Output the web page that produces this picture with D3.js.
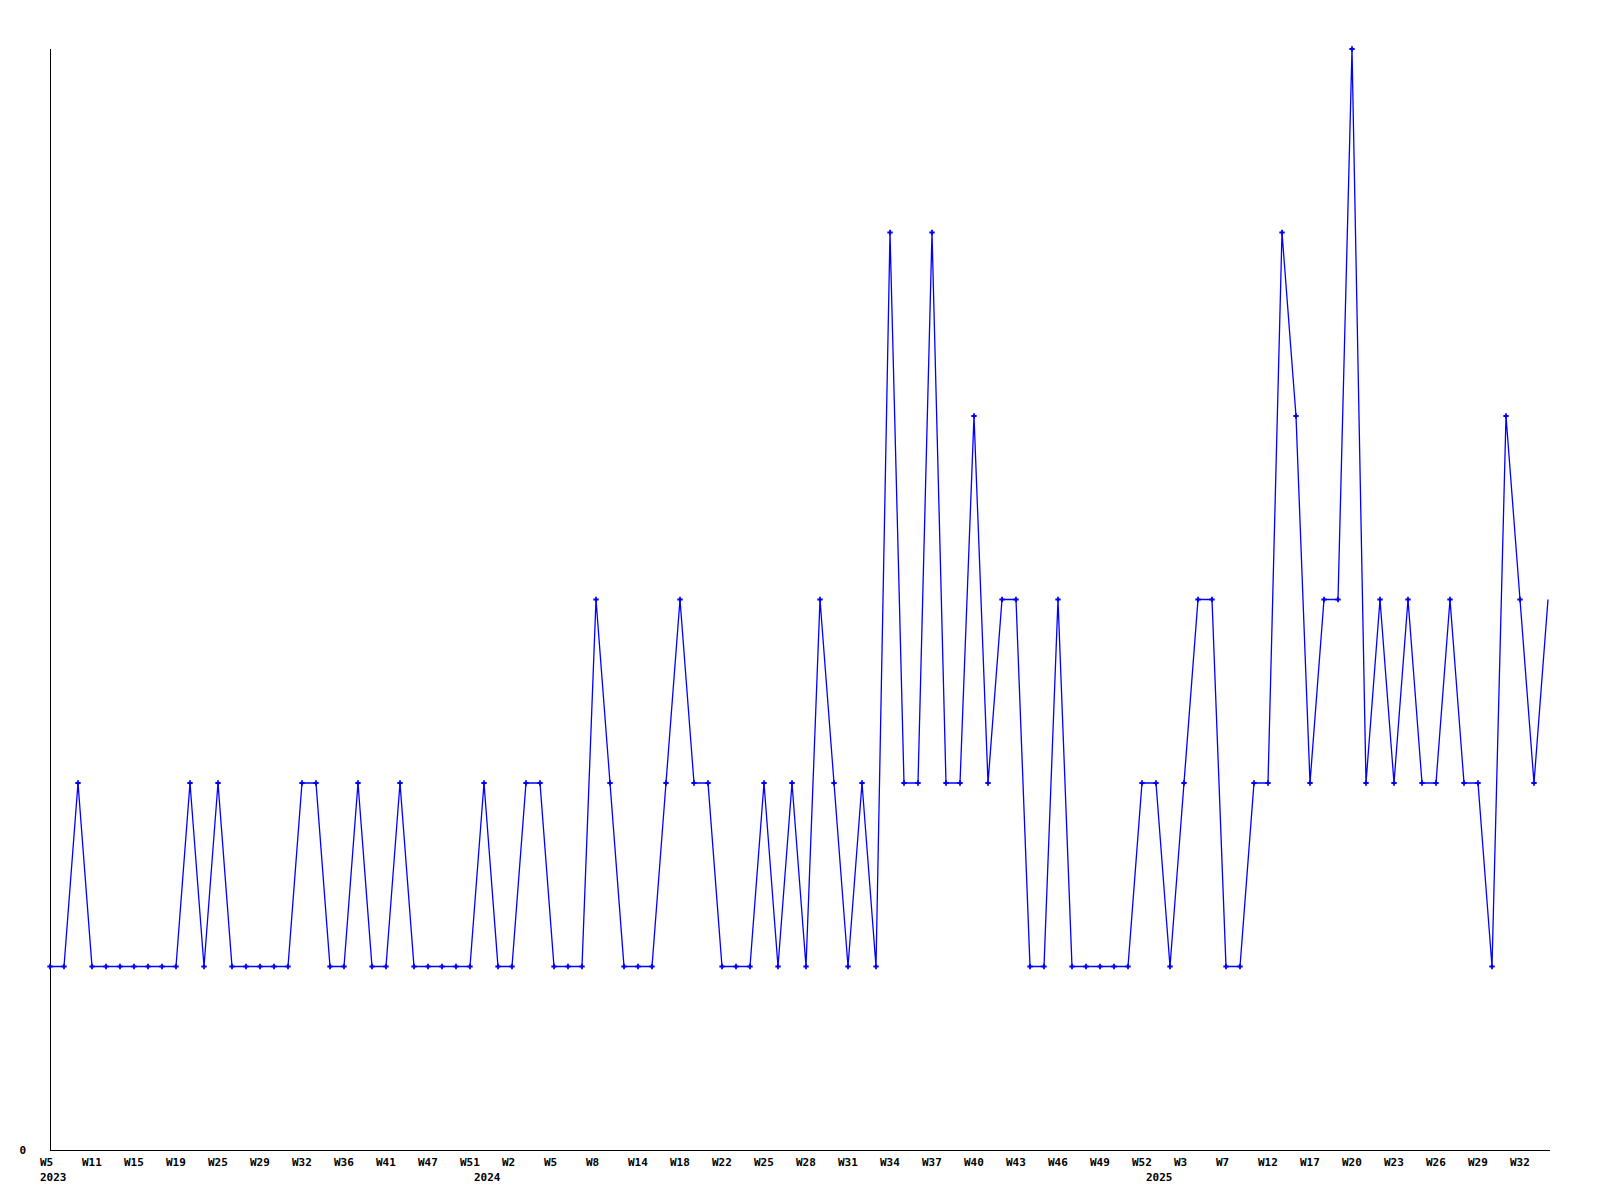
<!DOCTYPE html>
<html>
<head>
<meta charset="utf-8">
<script src="https://cdn.jsdelivr.net/npm/d3@7"></script>
<style>
  html, body { margin: 0; padding: 0; background: #ffffff; }
  svg { display: block; }
  text { font-family: "DejaVu Sans Mono", "Liberation Mono", monospace; font-weight: bold; font-size: 11px; fill: #000; }
</style>
</head>
<body>
<script>
// Weekly values, one per plotted week (108 points)
const values = [
  1,1,2,1,1,1,1,1,1,1,
  2,1,2,1,1,1,1,1,2,2,
  1,1,2,1,1,2,1,1,1,1,
  1,2,1,1,2,2,1,1,1,3,
  2,1,1,1,2,3,2,2,1,1,
  1,2,1,2,1,3,2,1,2,1,
  5,2,2,5,2,2,4,2,3,3,
  1,1,3,1,1,1,1,1,2,2,
  1,2,3,3,1,1,2,2,5,4,
  2,3,3,6,2,3,2,3,2,2,
  3,2,2,1,4,3,2,3
];
// Week labels shown on every third point
const tickLabels = [
  "W5","W11","W15","W19","W25","W29","W32","W36","W41","W47","W51","W2",
  "W5","W8","W14","W18","W22","W25","W28","W31","W34","W37","W40","W43",
  "W46","W49","W52","W3","W7","W12","W17","W20","W23","W26","W29","W32"
];
const tickEvery = 3;
// Year labels and the point index where each year starts
const years = ["2023","2024","2025"];
const yearStartIndex = [0, 31, 79];
const yTicks = [0];

const W = 1600, H = 1200;
const svg = d3.select("body").append("svg").attr("width", W).attr("height", H);

const x = d3.scalePoint().domain(d3.range(values.length)).range([50, 1548]);
const y = d3.scaleLinear().domain([0, 6]).range([1150, 49]);

// axes lines
svg.append("line").attr("x1", 50.5).attr("x2", 50.5).attr("y1", 49).attr("y2", 1150)
  .attr("stroke", "#000").attr("stroke-width", 1).attr("shape-rendering", "crispEdges");
svg.append("line").attr("x1", 50).attr("x2", 1550).attr("y1", 1150.5).attr("y2", 1150.5)
  .attr("stroke", "#000").attr("stroke-width", 1).attr("shape-rendering", "crispEdges");

// y tick labels
svg.selectAll("text.ytick").data(yTicks).enter().append("text")
  .attr("class", "ytick").attr("x", 26).attr("y", d => y(d) + 4)
  .attr("text-anchor", "end").text(d => d);

// x tick labels
svg.selectAll("text.xtick").data(tickLabels).enter().append("text")
  .attr("class", "xtick")
  .attr("x", (d, i) => x(i * tickEvery) - 10)
  .attr("y", 1166)
  .attr("text-anchor", "start")
  .text(d => d);

// year labels
svg.selectAll("text.year").data(years).enter().append("text")
  .attr("class", "year")
  .attr("x", (d, i) => x(yearStartIndex[i]) - 10)
  .attr("y", 1181)
  .attr("text-anchor", "start")
  .text(d => d);

// line
const line = d3.line().x((d, i) => x(i)).y(d => y(d));
svg.append("path").datum(values)
  .attr("d", line)
  .attr("fill", "none")
  .attr("stroke", "#0000ff")
  .attr("stroke-width", 1.3);

// markers (last point has none in the reference)
const sym = d3.symbol().type(d3.symbolCross).size(16);
svg.selectAll("path.pt").data(values.slice(0, values.length - 1)).enter().append("path")
  .attr("class", "pt")
  .attr("transform", (d, i) => `translate(${x(i)},${y(d)})`)
  .attr("d", sym)
  .attr("fill", "#0000ff");
</script>
</body>
</html>
